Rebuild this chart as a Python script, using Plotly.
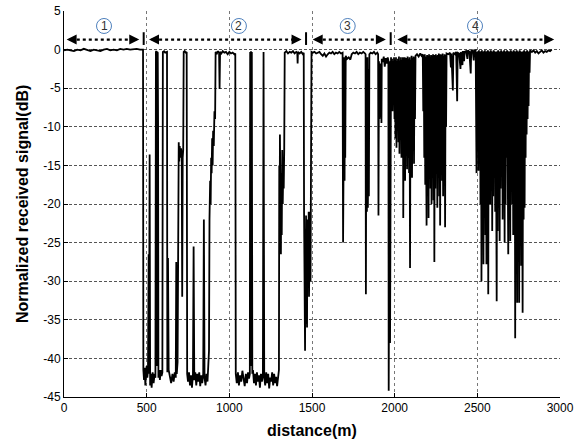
import plotly.graph_objects as go

# ---------------- data ----------------
# Segment 1: line-of-sight section
seg1_dist = [0, 20, 40, 60, 80, 100, 120, 140, 160, 180, 200, 220, 240, 260, 280, 300,
             320, 340, 360, 380, 400, 420, 440, 460, 478]
seg1_sig = [-0.1, 0.0, -0.1, -0.2, 0.0, -0.1, 0.1, -0.1, -0.2, 0.0, -0.1, -0.2, 0.0, 0.1, -0.1, 0.0,
            -0.1, 0.1, 0.0, 0.1, 0.0, 0.1, 0.1, 0.0, 0.0]

# Segment 2: deep blockages
seg2_dist = [480, 484, 488, 492, 496, 500, 504, 508, 512, 514, 518, 521, 526, 530, 536, 542, 548, 553,
             556, 560, 562, 564, 567, 569, 571, 575, 580, 585, 590, 595,
             598, 605, 612, 618, 623, 625, 629, 633, 640, 648, 656, 663, 670, 676, 679, 682, 687,
             690, 694, 697, 700, 704, 708, 712, 715, 718, 721, 724, 730, 737, 742,
             745, 750, 756, 762, 768, 774, 780, 784, 788, 794, 800, 806, 812, 818, 824, 830, 836,
             842, 846, 850, 856, 862, 868, 873, 877, 880, 884, 887, 890, 893, 896, 899, 902, 906,
             910, 914, 917, 925, 932, 938, 941, 944, 952, 960, 970, 980, 990, 1000, 1010, 1020,
             1030, 1036,
             1039, 1045, 1052, 1058, 1065, 1072, 1079, 1086, 1093, 1100, 1107, 1113, 1119, 1124,
             1126, 1129, 1131, 1134, 1136, 1139, 1143, 1149, 1155, 1161, 1167, 1173, 1179, 1185,
             1191, 1197, 1203, 1207, 1211, 1217, 1223, 1229, 1235, 1241, 1247, 1253, 1259, 1265,
             1271, 1277, 1283, 1289, 1295, 1300,
             1302, 1304, 1306, 1308, 1310, 1312, 1314, 1317, 1320, 1323, 1326, 1329, 1332,
             1335, 1345, 1355, 1365, 1375, 1385, 1395, 1405, 1411, 1413, 1415, 1425, 1435, 1445,
             1450, 1452, 1454, 1456, 1458, 1460, 1462, 1464, 1466, 1468, 1470, 1472, 1474, 1476,
             1478, 1480, 1482, 1484, 1486, 1488, 1491, 1494]
seg2_sig = [-41.5, -42.8, -41.2, -43.5, -42.0, -41.0, -42.5, -41.5, -26.5, -42.0, -13.6, -43.5, -42.0,
            -43.8, -41.8, -43.2, -42.0, -42.5,
            -0.3, -0.2, -41.0, -0.3, -0.4, -9.5, -42.5, -41.5, -42.8, -41.5, -42.3, -41.8,
            -0.3, -0.2, -0.4, -0.3, -0.3, -41.8, -27.0, -41.5, -42.5, -43.2, -42.0, -43.0, -41.8,
            -42.5, -27.5, -42.0, -40.5,
            -13.5, -12.0, -14.5, -12.5, -14.0, -12.8, -13.5, -32.0, -14.0, -13.0, -0.3, -0.2, -0.4, -0.3,
            -42.0, -43.0, -41.8, -43.5, -42.2, -43.8, -42.0, -25.5, -42.8, -41.8, -43.5, -42.0, -43.0,
            -41.8, -43.6, -42.2, -43.2,
            -42.0, -22.0, -42.5, -43.5, -42.0, -43.0, -41.5, -39.0, -22.0, -17.0, -20.0, -14.0, -16.0,
            -11.5, -15.0, -10.5, -12.5,
            -8.0, -9.0, -0.3, -0.5, -0.2, -0.4, -5.1, -0.3, -0.5, -0.2, -0.4, -0.3, -0.6, -0.3, -0.5,
            -0.4, -0.6, -0.5,
            -42.0, -43.2, -41.8, -43.5, -42.2, -43.0, -41.6, -42.8, -43.6, -42.0, -43.2, -41.8, -42.6,
            -42.0,
            -0.3, -41.0, -0.2, -20.5, -0.3, -42.0, -41.5, -43.2, -42.0, -43.5, -41.8, -43.0, -42.2,
            -43.8,
            -42.0, -43.0, -42.0, -0.3, -42.5, -43.5, -41.8, -43.2, -42.0, -43.9, -42.5, -43.0, -41.8,
            -43.5,
            -42.0, -43.2, -42.4, -43.6, -42.0, -41.5,
            -15.0, -26.0, -11.0, -22.0, -14.5, -26.5, -16.0, -24.0, -13.0, -20.0, -15.5, -18.0, -13.0,
            -0.4, -0.2, -0.5, -0.3, -0.4, -0.2, -0.5, -0.3, -0.4, -1.8, -0.3, -0.5, -0.3, -0.6,
            -0.4, -21.0, -33.0, -22.5, -39.0, -24.0, -35.5, -21.5, -31.0, -23.0, -36.0, -22.0, -33.0,
            -24.5, -29.0, -21.0, -32.0, -22.5, -27.0, -21.0, -30.0, -20.0]

# Segment 3: mostly clear with isolated fades
seg3_dist = [1497, 1505, 1515, 1525, 1535, 1545, 1555, 1565, 1575, 1585, 1595, 1605, 1615, 1625,
             1635, 1645, 1655, 1665, 1675, 1685, 1688, 1691, 1693, 1695, 1697, 1699, 1701, 1704,
             1712, 1722, 1732, 1740, 1750, 1760, 1770, 1780, 1790, 1800, 1810, 1820, 1824, 1826,
             1829, 1832, 1835, 1838, 1841, 1844, 1847, 1855, 1865, 1875, 1885, 1895, 1900, 1902,
             1905, 1908, 1911, 1914, 1917, 1920, 1922, 1928, 1934, 1940, 1946, 1952, 1958, 1962,
             1964, 1966, 1968, 1970, 1972, 1974, 1976]
seg3_sig = [-0.3, -0.4, -0.3, -0.5, -0.4, -0.3, -0.6, -0.8, -0.5, -0.9, -0.6, -0.4, -0.5, -0.3,
            -0.6, -0.4, -0.5, -0.3, -0.5, -0.4, -25.0, -3.0, -14.8, -1.0, -17.0, -2.0, -14.0, -0.8,
            -1.2, -1.0, -1.3, -0.6, -0.4, -0.5, -0.3, -0.6, -0.4, -0.5, -0.3, -0.5, -0.6, -31.7,
            -2.0, -21.0, -1.0, -20.5, -2.5, -19.0, -0.6, -0.4, -0.5, -0.3, -0.6, -0.4, -0.6, -21.5,
            -1.5, -9.0, -1.8, -8.8, -2.0, -9.5, -1.2, -1.6, -0.9, -2.2, -1.1, -1.8, -1.0, -1.4,
            -44.2, -2.0, -43.5, -1.5, -38.0, -1.2, -28.7]

# Segment 4: dense multipath fading
seg4_dist = [1978, 1981, 1984, 1987, 1990, 1993, 1996, 1999, 2002, 2005, 2008, 2011, 2014, 2017,
             2020, 2023, 2026, 2029, 2032, 2035, 2038, 2041, 2044, 2047, 2050, 2052, 2055, 2058,
             2061, 2063, 2066, 2069, 2072, 2075, 2078, 2081, 2084, 2087, 2090, 2093, 2096, 2099,
             2102, 2105, 2108, 2111, 2114, 2117, 2120, 2123, 2126,
             2135, 2145, 2155, 2163, 2170,
             2173, 2176, 2179, 2182, 2185, 2188, 2191, 2193, 2196, 2199, 2202, 2205, 2208, 2211,
             2214, 2217, 2220, 2223, 2226, 2229, 2232, 2235, 2238, 2240, 2243, 2246, 2249, 2252,
             2255, 2258, 2261, 2264, 2267, 2270, 2273, 2275, 2278, 2281, 2284, 2287, 2290, 2293,
             2296, 2299, 2302, 2305, 2308, 2311, 2314,
             2325, 2335, 2340, 2343, 2352, 2355, 2365, 2372, 2378, 2381, 2390, 2398, 2401, 2410,
             2413, 2420, 2423, 2432, 2440, 2443, 2452, 2460, 2463, 2472, 2478, 2481, 2490,
             2495, 2498, 2501, 2504, 2507, 2510, 2513, 2516, 2519, 2522, 2525, 2528, 2531, 2534,
             2537, 2540, 2543, 2546, 2549, 2552, 2555, 2558, 2561, 2564, 2566, 2569, 2572, 2575,
             2578, 2581, 2584, 2587, 2590, 2593, 2596, 2599, 2602, 2605, 2608, 2611, 2614, 2617,
             2620, 2623, 2626, 2629, 2632, 2635, 2638, 2641, 2644, 2647, 2650, 2653, 2656, 2659,
             2662, 2665, 2668, 2671, 2674, 2677, 2680, 2684, 2687, 2690, 2693, 2696, 2699, 2702,
             2705, 2708, 2711, 2714, 2717, 2720, 2723, 2726, 2729, 2732, 2735, 2738, 2741, 2744,
             2747, 2750, 2753, 2756, 2759, 2762, 2765, 2768, 2771, 2774, 2777, 2780, 2783, 2786,
             2789, 2792, 2795, 2798, 2801, 2804, 2807, 2810, 2813, 2816, 2819,
             2830, 2840, 2850, 2860, 2870, 2880, 2890, 2900, 2910, 2920, 2930, 2940, 2950]
seg4_sig = [-1.0, -6.0, -1.2, -8.0, -1.5, -5.5, -1.0, -9.0, -1.3, -11.5, -1.0, -12.7, -1.5, -10.0,
            -1.2, -12.0, -0.9, -13.5, -1.4, -11.0, -1.0, -14.0, -1.3, -12.5, -1.0, -21.8, -1.2, -15.0,
            -1.0, -17.0, -1.4, -13.5, -1.1, -15.5, -0.9, -14.0, -1.2, -16.0, -1.0, -28.3, -1.3, -15.0,
            -0.8, -16.6, -1.1, -13.0, -0.9, -14.8, -1.0, -9.0, -0.8,
            -0.6, -0.9, -0.5, -0.8, -0.6,
            -8.0, -0.7, -14.0, -0.6, -17.5, -0.9, -16.0, -22.8, -0.7, -19.0, -0.8, -21.8, -0.6, -15.5,
            -0.9, -18.0, -0.7, -20.0, -0.8, -16.5, -0.6, -19.5, -0.9, -27.5, -0.7, -18.0, -0.6, -15.0,
            -0.8, -20.5, -0.7, -14.0, -0.5, -19.0, -0.8, -22.8, -0.6, -7.0, -0.7, -17.0, -0.5, -19.0,
            -0.8, -12.0, -0.6, -23.0, -0.7, -10.0, -0.5,
            -0.6, -0.4, -2.3, -0.5, -5.3, -0.4, -0.6, -0.3, -6.7, -0.4, -0.5, -2.5, -0.3, -2.0,
            -0.2, -1.5, -0.3, -0.2, -1.2, -0.1, -0.3, -3.1, -0.2, -0.1, -1.4, -0.2, -0.1,
            -16.0, -0.3, -8.0, -0.2, -15.7, -0.1, -12.0, -0.3, -20.0, -0.2, -30.0, -0.1, -22.0, -0.3,
            -27.8, -0.2, -18.0, -0.1, -24.0, -0.3, -27.8, -0.2, -21.0, -0.1, -31.7, -0.2, -16.6, -0.3,
            -20.0, -0.1, -18.0, -0.2, -23.5, -0.3, -19.0, -0.1, -14.8, -0.2, -21.0, -0.3, -24.0, -32.6,
            -0.2, -23.5, -0.1, -20.0, -0.3, -24.8, -0.2, -18.0, -0.1, -12.5, -0.3, -22.0, -0.2, -16.0,
            -0.1, -25.0, -0.3, -20.0, -0.2, -14.0, -0.1, -19.0, -26.5, -0.2, -22.0, -0.3, -24.8, -0.1,
            -17.0, -0.2, -20.0, -0.3, -24.0, -0.1, -19.0, -0.2, -37.4, -0.3, -21.0, -0.1, -32.8, -0.2,
            -26.0, -0.3, -32.8, -0.1, -23.0, -0.2, -28.0, -0.3, -20.0, -34.1, -0.2, -22.0, -0.1, -20.5,
            -0.3, -14.0, -0.2, -11.0, -0.1, -9.0, -0.3, -7.3, -0.2, -3.0, -0.1,
            -0.3, -0.1, -0.4, -0.2, -0.5, -0.3, -0.1, -0.4, -0.2, -0.3, -0.1, -0.2, 0.0]

x_ticks = [0, 500, 1000, 1500, 2000, 2500, 3000]
y_ticks = [5, 0, -5, -10, -15, -20, -25, -30, -35, -40, -45]
region_labels = ["1", "2", "3", "4"]

# ---------------- layout constants ----------------
label_x = [242, 1058, 1716, 2486]
label_y = 3.06
arrow_y = 1.3
arrow_spans = [(16, 455), (514, 1437), (1504, 1947), (2016, 2965)]
bar_x = [482, 1464, 1976]

distance = seg1_dist + seg2_dist + seg3_dist + seg4_dist
signal = seg1_sig + seg2_sig + seg3_sig + seg4_sig

FONT = "Arial, Liberation Sans, sans-serif"

fig = go.Figure()
fig.add_trace(go.Scatter(x=distance, y=signal, mode="lines",
                         line=dict(color="black", width=1.8), hoverinfo="skip"))

shapes = []
annotations = []
for (x0, x1) in arrow_spans:
    shapes.append(dict(type="line", xref="x", yref="y", x0=x0 + 25, x1=x1 - 25,
                       y0=arrow_y, y1=arrow_y, line=dict(color="black", width=2.2, dash="dot")))
    annotations.append(dict(x=x1, y=arrow_y, xref="x", yref="y", text="", showarrow=True,
                            ax=-9, ay=0, arrowhead=2, arrowsize=1, arrowwidth=2, arrowcolor="black"))
    annotations.append(dict(x=x0, y=arrow_y, xref="x", yref="y", text="", showarrow=True,
                            ax=9, ay=0, arrowhead=2, arrowsize=1, arrowwidth=2, arrowcolor="black"))
for bx in bar_x:
    shapes.append(dict(type="line", xref="x", yref="y", x0=bx, x1=bx, y0=0.6, y1=2.25,
                       line=dict(color="black", width=2)))
for lx, lab in zip(label_x, region_labels):
    shapes.append(dict(type="circle", xref="x", yref="y", xsizemode="pixel", ysizemode="pixel",
                       xanchor=lx, yanchor=label_y, x0=-7.5, x1=7.5, y0=-7.5, y1=7.5,
                       line=dict(color="#4f81bd", width=1)))
    annotations.append(dict(x=lx, y=label_y, xref="x", yref="y", text=lab, showarrow=False,
                            font=dict(family=FONT, size=12, color="#333333")))

# axis titles as annotations for exact placement
annotations.append(dict(x=0.5, y=0, xref="paper", yref="paper", text="distance(m)",
                        showarrow=False, yanchor="middle", xanchor="center", yshift=-33,
                        font=dict(family=FONT, size=16, color="black", weight="bold")))
annotations.append(dict(x=0, y=0.5, xref="paper", yref="paper",
                        text="Normalized received signal(dB)", textangle=-90,
                        showarrow=False, yanchor="middle", xanchor="center", xshift=-42,
                        font=dict(family=FONT, size=16, color="black", weight="bold")))

fig.update_layout(
    width=588, height=441,
    margin=dict(l=64, r=28, t=11, b=44, autoexpand=False),
    paper_bgcolor="white", plot_bgcolor="white",
    showlegend=False,
    shapes=shapes, annotations=annotations,
    font=dict(family=FONT, size=12, color="black"),
)
fig.update_xaxes(range=[0, 3000], tickvals=x_ticks, ticktext=[str(t) for t in x_ticks],
                 automargin=False,
                 showline=True, linecolor="black", linewidth=1, ticks="inside", ticklen=4,
                 tickcolor="black", showgrid=True, gridcolor="#777777", griddash="dot",
                 gridwidth=1, zeroline=False,
                 tickfont=dict(family=FONT, size=12, color="black"))
fig.update_yaxes(range=[-45, 5], tickvals=y_ticks, ticktext=[str(t) for t in y_ticks],
                 automargin=False,
                 showline=True, linecolor="black", linewidth=1, ticks="inside", ticklen=4,
                 tickcolor="black", showgrid=True, gridcolor="#555555", griddash="3px,2px",
                 gridwidth=1, zeroline=False,
                 tickfont=dict(family=FONT, size=12, color="black"))

# remove the default 8px page margin so the figure fills the window exactly
fig.write_html("out.html", config={"displayModeBar": False},
               post_script="document.body.style.margin='0';")
